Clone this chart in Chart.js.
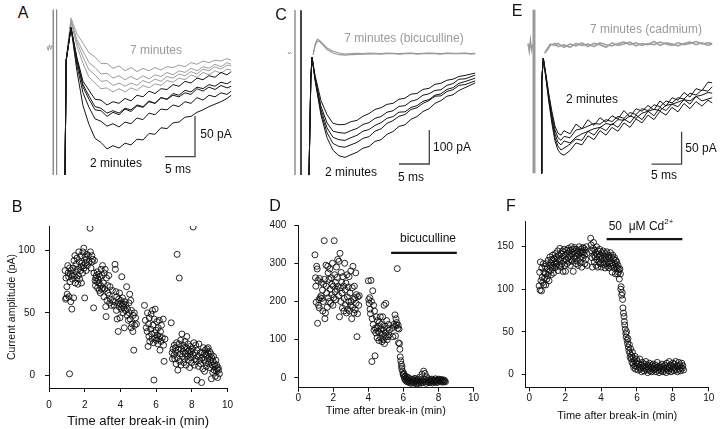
<!DOCTYPE html>
<html><head><meta charset="utf-8">
<script src="https://cdn.jsdelivr.net/npm/chart.js@4.4.1/dist/chart.umd.min.js"></script>
<style>
html,body{margin:0;padding:0;background:#fff;}
#wrap{position:relative;width:720px;height:429px;overflow:hidden;font-family:"Liberation Sans",Arial,Helvetica,sans-serif;}
canvas{position:absolute;}
.lbl{position:absolute;transform:translate(-50%,-50%);white-space:nowrap;font-size:12px;color:#111;line-height:1;}
.g{color:#9a9a9a;}
.let{font-size:16px;}
sup{font-size:8px;vertical-align:6px;line-height:0;}
</style></head><body><div id="wrap">
<canvas id="cA" width="200" height="190" style="left:40px;top:0"></canvas>
<canvas id="cC" width="200" height="190" style="left:280px;top:0"></canvas>
<canvas id="cE" width="200" height="190" style="left:520px;top:0"></canvas>
<canvas id="cB" width="240" height="229" style="left:0;top:200px"></canvas>
<canvas id="cD" width="240" height="229" style="left:240px;top:200px"></canvas>
<canvas id="cF" width="240" height="229" style="left:480px;top:200px"></canvas>

<div class="lbl let" style="left:23px;top:13px">A</div>
<div class="lbl let" style="left:281px;top:15px">C</div>
<div class="lbl let" style="left:517px;top:11px">E</div>
<div class="lbl let" style="left:17px;top:207px">B</div>
<div class="lbl let" style="left:275px;top:206px">D</div>
<div class="lbl let" style="left:511px;top:206px">F</div>

<div class="lbl g" style="left:156px;top:50px">7 minutes</div>
<div class="lbl" style="left:116px;top:163px">2 minutes</div>
<div class="lbl" style="left:216px;top:134px">50 pA</div>
<div class="lbl" style="left:178px;top:169px">5 ms</div>

<div class="lbl g" style="left:404px;top:38px">7 minutes (bicuculline)</div>
<div class="lbl" style="left:351px;top:172px">2 minutes</div>
<div class="lbl" style="left:452px;top:147px">100 pA</div>
<div class="lbl" style="left:411px;top:177px">5 ms</div>

<div class="lbl g" style="left:646px;top:29px">7 minutes (cadmium)</div>
<div class="lbl" style="left:592px;top:99px">2 minutes</div>
<div class="lbl" style="left:701px;top:148px">50 pA</div>
<div class="lbl" style="left:664px;top:175px">5 ms</div>

<div class="lbl" style="left:428px;top:238px">bicuculline</div>
<div class="lbl" style="left:641px;top:226px">50 &nbsp;μM Cd<sup>2+</sup></div>
</div>
<script>
// ---------- Panel A traces (time in ms, current in pA) ----------
const tA = [2,2.2,3,4,5,6,7,8,9,10,11,12,13,14,15,16,17,18,19,20,21,22,23,24,25,26,27,28,29,29.7];
const aBlack1 = [-156,-15,25,-12,-41,-52,-63,-64,-70,-66,-68,-62,-65,-58,-60,-53,-56,-50,-51,-45,-47,-41,-43,-37,-39,-34,-36,-30,-33,-29];
const aBlack2 = [-156,-15,25,-15,-45,-59,-72,-74,-80,-77,-80,-74,-76,-70,-72,-65,-68,-61,-63,-56,-58,-52,-54,-48,-50,-45,-47,-42,-44,-41];
const aBlack3 = [-156,-15,25,-17,-48,-63,-76,-77,-84,-79,-82,-75,-78,-71,-73,-66,-68,-61,-63,-58,-60,-55,-57,-50,-53,-48,-51,-46,-49,-47];
const aBlack4 = [-156,-15,25,-22,-55,-73,-87,-90,-96,-93,-97,-91,-93,-86,-88,-80,-82,-75,-76,-70,-72,-66,-68,-61,-64,-58,-60,-55,-57,-53];
const aBlack5 = [-156,-15,25,-29,-71,-94,-111,-116,-124,-120,-123,-117,-119,-112,-113,-105,-106,-98,-99,-92,-91,-85,-84,-79,-76,-72,-69,-66,-62,-58];
const aGray1 = [-156,-15,37,17,6,-6,-11,-19,-19,-25,-22,-28,-24,-29,-25,-28,-24,-27,-23,-24,-21,-23,-18,-20,-16,-18,-15,-16,-13,-15];
const aGray2 = [-156,-15,34,10,-4,-18,-24,-32,-31,-37,-34,-39,-35,-39,-34,-38,-33,-35,-30,-33,-28,-30,-25,-28,-23,-25,-20,-23,-18,-20];
const aGray3 = [-156,-15,32,7,-11,-27,-33,-41,-40,-46,-43,-47,-43,-46,-40,-43,-38,-41,-35,-37,-32,-34,-29,-32,-26,-28,-23,-26,-21,-22];
const aGray4 = [-156,-15,32,2,-19,-36,-43,-50,-49,-54,-50,-54,-49,-52,-46,-49,-44,-46,-40,-42,-37,-39,-33,-36,-30,-33,-28,-31,-26,-27];
const aPreT = [-1.0,-0.8,-0.6,-0.4,-0.2,0.05];
const aPre = [2,-3,4,-2,3,1];
const aArtifactT = [0.05,0.6];
const aArtifactRange = [47,-156];
const aBarT = [18.67,23.67];
const aBarI = [-133.5,-83.5];

// ---------- Panel C traces ----------
const tC = [2,2.3,2.5,3,4,5,6,7,8,9,10,11,12,13,14,15,16,17,18,19,20,21,22,23,24,25,26,27,28,29.7];
const cBlack1 = [-359,-79,-12,-65,-140,-181,-207,-211,-210,-202,-198,-186,-178,-166,-161,-151,-148,-136,-133,-121,-119,-107,-104,-92,-89,-80,-77,-69,-66,-59];
const cBlack2 = [-359,-79,-12,-71,-157,-205,-230,-234,-236,-228,-222,-210,-205,-192,-187,-174,-170,-157,-155,-142,-137,-124,-120,-110,-108,-95,-90,-77,-76,-65];
const cBlack3 = [-359,-79,-12,-74,-166,-220,-248,-255,-257,-249,-242,-230,-225,-213,-205,-192,-187,-174,-173,-160,-155,-142,-137,-124,-120,-107,-102,-89,-84,-74];
const cBlack4 = [-359,-79,-12,-76,-175,-234,-266,-275,-277,-270,-263,-251,-246,-230,-223,-207,-199,-186,-181,-166,-161,-148,-140,-127,-126,-113,-108,-95,-93,-82];
const cBlack5 = [-359,-79,-12,-79,-183,-249,-286,-302,-307,-299,-292,-280,-275,-260,-255,-239,-231,-216,-211,-195,-187,-172,-164,-148,-140,-127,-123,-110,-102,-88];
const tCg = [2.7,3.0,3.4,3.8,4.5,5,6,7,8,9,10,11,12,13,14,15,16,17,18,19,20,21,22,23,24,25,26,27,28,29,29.7];
const cGray1 = [-5,25,41,36,24,15,5,0,-3,-2,-1,-2,0,-1,-2,0,-1,-2,-1,0,-2,-1,0,-1,-2,0,-1,-1,0,-2,-1];
const cGray2 = [-5,20,35,33,20,10,0,-5,-6,-5,-4,-3,-3,-2,-3,-2,-2,-3,-2,-1,-3,-2,-1,-2,-3,-1,-2,-2,-1,-3,-2];
const cPreT = [-1.5,-1.3,-1.1,-0.9];
const cPre = [3,-3,2,-2];
const cArtifactT = [-0.33,0.67];
const cArtifactRange = [126,-359];
const cBarT = [17,22.05];
const cBarI = [-326.5,-226.5];

// ---------- Panel E traces ----------
const tE = [1.17,1.3,1.55,2,2.5,3,3.5,4,4.5,5,6,7,8,9,10,11,12,13,14,15,16,17,18,19,20,21,22,23,24,25,26,27,28,29,29.7];
const eBlack1 = [-197,-53,-19,-45,-76,-102,-124,-135,-138,-131,-136,-121,-128,-114,-123,-111,-118,-108,-113,-100,-110,-97,-101,-92,-99,-85,-93,-80,-84,-72,-79,-66,-69,-56,-57];
const eBlack2 = [-197,-53,-19,-46,-79,-107,-130,-142,-146,-140,-142,-130,-128,-124,-120,-121,-114,-117,-109,-112,-103,-106,-97,-100,-91,-94,-85,-88,-80,-82,-73,-76,-68,-70,-63];
const eBlack3 = [-197,-53,-19,-48,-82,-111,-136,-149,-153,-147,-150,-141,-136,-132,-128,-126,-120,-122,-114,-115,-108,-112,-104,-101,-98,-100,-92,-90,-87,-83,-85,-78,-76,-72,-73];
const eBlack4 = [-197,-53,-19,-50,-85,-116,-142,-155,-161,-158,-152,-144,-146,-132,-138,-126,-131,-120,-126,-113,-119,-107,-114,-101,-108,-95,-100,-90,-94,-83,-90,-78,-85,-82,-80];
const eBlack5 = [-197,-53,-19,-51,-88,-121,-147,-161,-167,-169,-162,-150,-153,-139,-145,-131,-138,-126,-132,-119,-126,-113,-119,-107,-114,-101,-107,-95,-102,-89,-97,-86,-93,-84,-88];
const tEg = [1.8,2.3,2.7,3.5,4,5,6,7,8,9,10,11,12,13,14,15,16,17,18,19,20,21,22,23,24,25,26,27,28,29,29.7];
const eGray1 = [-11,-3,3,1,4,-2,3,0,5,-1,4,2,-2,5,1,3,6,0,4,2,7,1,5,3,0,4,6,2,5,1,3];
const eGray2 = [-11,-5,1,4,-1,2,-2,4,1,3,-1,5,2,0,4,6,2,5,1,4,2,6,3,1,5,2,4,7,3,5,4];
const ePreT = [-1,-0.8,-0.6,-0.4,-0.2];
const ePre = [4,-8,9,-6,3];
const eArtifactT = [0];
const eArtifactRange = [56,-197];
const eBarT = [19.6,24.6];
const eBarI = [-182.7,-132.7];

// ---------- Panel B: amplitude vs time ----------
const bPoints = [[0.9,84],[0.93,61],[0.95,78],[0.97,62],[1.0,71],[1.02,65],[1.05,88],[1.07,82],[1.1,79],[1.12,63],[1.15,1],[1.15,86],[1.18,75],[1.2,81],[1.22,59],[1.25,84],[1.28,53],[1.3,80],
[1.32,77],[1.35,86],[1.38,62],[1.4,92],[1.42,80],[1.45,96],[1.47,74],[1.5,83],[1.52,89],[1.55,78],[1.57,94],[1.6,85],[1.62,73],[1.65,80],[1.67,99],[1.7,91],[1.72,77],[1.75,84],[1.78,87],[1.8,96],[1.82,74],[1.85,90],[1.88,82],[1.9,99],[1.92,88],[1.95,102],[1.97,86],
[2.0,62],[2.02,95],[2.05,90],[2.08,84],[2.1,93],[2.12,97],[2.15,88],[2.2,96],[2.25,91],[2.3,118],[2.32,99],[2.35,86],[2.4,96],[2.42,91],[2.45,93],[2.5,54],[2.52,82],[2.55,92],[2.58,76],
[2.6,72],[2.62,78],[2.65,80],[2.68,75],[2.7,83],[2.72,70],[2.75,77],[2.78,81],[2.8,74],[2.82,68],[2.85,79],[2.88,66],[2.9,72],[2.92,85],[2.95,69],[2.98,80],[3.0,88],[3.02,70],[3.05,74],[3.08,63],[3.1,82],[3.12,69],[3.15,85],[3.18,55],[3.2,47],[3.22,78],[3.25,60],[3.28,72],[3.3,66],[3.35,80],[3.38,64],[3.4,58],[3.42,71],[3.45,61],[3.5,56],[3.55,68],
[3.6,59],[3.65,56],[3.7,89],[3.72,85],[3.75,67],[3.78,52],[3.8,63],[3.82,45],[3.85,58],[3.88,35],[3.9,61],[3.92,55],[3.95,66],[3.98,46],[4.0,57],[4.02,60],[4.05,53],[4.08,79],[4.1,56],[4.12,62],[4.15,50],[4.18,57],[4.2,54],[4.22,38],[4.25,59],[4.28,52],
[4.3,56],[4.35,71],[4.38,48],[4.4,53],[4.45,44],[4.48,58],[4.5,50],[4.52,65],[4.55,45],[4.58,60],[4.6,38],[4.62,52],[4.65,41],[4.7,35],[4.72,48],[4.75,20],[4.78,50],[4.8,40],[4.85,46],[4.9,41],
[5.35,56],[5.4,44],[5.45,38],[5.5,35],[5.52,50],[5.55,23],[5.58,41],[5.6,31],[5.62,46],[5.65,27],[5.7,37],[5.72,49],[5.75,33],[5.78,29],[5.8,52],[5.82,40],[5.85,26],[5.88,-4],[5.9,45],[5.92,34],[5.95,53],[5.98,30],
[6.0,36],[6.02,28],[6.05,43],[6.08,32],[6.1,25],[6.12,38],[6.15,29],[6.18,44],[6.2,31],[6.22,20],[6.25,35],[6.28,27],[6.3,40],[6.35,30],[6.4,45],[6.42,24],[6.45,11],[6.5,29],
[6.85,42],[6.9,18],[6.92,13],[6.95,21],[7.0,16],[7.02,24],[7.05,13],[7.08,19],[7.1,22],[7.12,9],[7.15,26],[7.18,97],[7.2,14],[7.22,4],[7.25,20],[7.28,25],[7.3,78],[7.32,11],[7.35,17],[7.38,28],[7.4,8],[7.42,21],[7.45,33],[7.48,15],
[7.5,24],[7.52,19],[7.55,10],[7.58,22],[7.6,13],[7.62,27],[7.65,17],[7.68,8],[7.7,22],[7.72,31],[7.75,15],[7.78,19],[7.8,25],[7.82,12],[7.85,20],[7.88,6],[7.9,17],[7.92,23],[7.95,14],[7.98,19],[8.0,10],[8.05,21],[8.08,119],[8.1,16],[8.12,26],[8.15,8],[8.18,18],[8.2,13],[8.22,24],[8.25,11],[8.28,20],[8.3,-4],[8.35,15],[8.38,7],[8.4,25],[8.45,12],[8.48,18],[8.5,9],[8.55,-6],[8.58,14],
[8.6,18],[8.62,5],[8.65,22],[8.68,12],[8.7,17],[8.72,3],[8.75,20],[8.78,10],[8.8,16],[8.82,7],[8.85,21],[8.88,13],[8.9,18],[8.92,22],[8.95,9],[8.98,15],[9.0,19],[9.02,6],[9.05,12],[9.08,17],[9.1,-3],[9.12,14],[9.15,8],[9.18,2],[9.2,11],[9.22,15],[9.25,4],[9.28,9],[9.3,7],[9.32,-1],[9.35,12],[9.38,3],[9.4,8],[9.42,5],[9.45,-2],[9.48,6],[9.5,4],[9.55,1]];
const bXTicks = [0,2,4,6,8,10];
const bYTicks = [0,50,100];

// ---------- Panel D ----------
const dPoints = [[0.95,322],[0.98,262],[1.0,240],[1.02,198],[1.05,292],[1.08,285],[1.1,143],[1.12,255],[1.15,190],[1.18,205],[1.2,183],[1.22,260],[1.25,210],
[1.3,215],[1.32,250],[1.35,208],[1.38,230],[1.4,175],[1.42,200],[1.45,245],[1.48,359],[1.5,258],[1.52,155],[1.55,170],[1.58,295],[1.6,240],[1.62,222],[1.65,185],[1.68,292],[1.7,275],[1.72,210],[1.75,258],[1.78,200],[1.8,285],[1.82,232],[1.85,195],[1.88,262],[1.9,218],[1.92,245],[1.95,300],[1.98,190],
[2.0,240],[2.02,210],[2.05,359],[2.08,270],[2.1,225],[2.12,250],[2.15,205],[2.18,290],[2.2,232],[2.22,263],[2.25,310],[2.28,240],[2.3,215],[2.32,305],[2.35,160],[2.38,326],[2.4,236],[2.42,200],[2.45,276],[2.48,250],[2.5,222],[2.52,183],[2.55,265],[2.58,240],
[2.6,175],[2.62,208],[2.65,300],[2.68,230],[2.7,190],[2.72,248],[2.75,170],[2.78,270],[2.8,212],[2.82,180],[2.85,238],[2.88,200],[2.9,265],[2.92,175],[2.95,222],[2.98,190],[3.0,280],[3.02,200],[3.05,155],[3.08,236],[3.1,185],[3.12,292],[3.15,205],[3.18,170],[3.2,240],[3.22,210],[3.25,178],[3.28,275],[3.3,195],[3.32,218],[3.35,108],[3.38,168],[3.4,212],[3.45,190],[3.48,215],
[4.0,254],[4.02,205],[4.05,195],[4.08,210],[4.1,180],[4.12,168],[4.15,255],[4.18,200],[4.2,43],[4.22,155],[4.25,228],[4.28,140],[4.3,190],[4.32,125],[4.35,175],[4.38,58],[4.4,130],[4.42,118],[4.45,160],[4.48,132],[4.5,105],
[4.52,150],[4.55,122],[4.58,135],[4.6,98],[4.62,145],[4.65,118],[4.68,160],[4.7,105],[4.72,128],[4.75,140],[4.78,95],[4.8,115],[4.82,160],[4.85,100],[4.88,125],[4.9,190],[4.92,90],[4.95,135],[4.98,108],[5.0,195],[5.02,118],[5.05,150],[5.08,100],[5.1,130],[5.12,108],[5.15,140],[5.18,112],[5.2,125],
[5.35,130],[5.4,108],[5.45,140],[5.5,135],[5.52,165],[5.55,110],[5.58,155],[5.6,138],[5.62,145],[5.65,286],[5.68,130],[5.7,138],[5.72,92],[5.75,128],[5.78,90],
[5.8,75],[5.82,55],[5.85,45],[5.88,36],[5.9,25],[5.92,30],[5.95,18],[5.98,10],[6.0,8],
[6.02,12],[6.05,2],[6.08,-3],[6.1,5],[6.12,-6],[6.15,0],[6.18,-9],[6.2,3],[6.22,-4],[6.25,-10],[6.28,1],[6.3,-7],[6.33,-12],[6.36,-2],[6.4,-8],[6.43,-14],[6.46,-5],[6.5,-11],[6.53,-3],[6.56,-9],[6.6,-13],[6.63,-6],[6.66,-1],[6.7,-10],[6.73,-15],[6.76,-7],[6.8,-3],[6.83,-12],[6.86,-8],[6.9,-14],[6.93,2],[6.96,-9],[7.0,-5],[7.03,-13],[7.06,10],[7.1,-7],[7.13,-11],[7.16,18],[7.2,-4],[7.23,12],[7.26,-9],[7.3,-14],[7.33,3],[7.36,-6],[7.4,-10],[7.43,-2],[7.46,-12],[7.5,-7],[7.53,-4],[7.56,-11],[7.6,-8],[7.63,-3],[7.66,-13],[7.7,-6],[7.73,-9],[7.76,-5],[7.8,-11],[7.83,-2],[7.86,-8],[7.9,-6],[7.93,-12],[7.96,-4],[8.0,-9],[8.03,-3],[8.06,-7],[8.1,-5],[8.13,-10],[8.16,-4],[8.2,-8],[8.23,-6],[8.26,-11],[8.3,-5],[8.33,-9],[8.36,-7],[8.4,-10]];
const dXTicks = [0,2,4,6,8,10];
const dYTicks = [0,100,200,300,400];
const dBicucullineBar = [[5.3,327],[9.05,327]];

// ---------- Panel F ----------
const fPoints = [[0.55,104],[0.58,120],[0.6,99],[0.62,132],[0.65,110],[0.68,98],[0.7,125],[0.72,114],[0.75,108],[0.78,130],[0.8,105],[0.82,120],[0.85,113],[0.88,127],
[0.9,118],[0.92,105],[0.95,130],[0.98,112],[1.0,124],[1.02,116],[1.05,134],[1.08,120],[1.1,110],[1.12,128],[1.15,138],[1.18,122],[1.2,131],[1.22,117],[1.25,135],[1.28,126],[1.3,140],[1.32,128],[1.35,119],[1.38,136],[1.4,130],[1.42,125],[1.45,142],[1.48,132],
[1.5,127],[1.52,138],[1.55,130],[1.58,145],[1.6,122],[1.62,135],[1.65,140],[1.68,128],[1.7,148],[1.72,134],[1.75,126],[1.78,142],[1.8,137],[1.82,130],[1.85,145],[1.88,121],[1.9,139],[1.92,133],[1.95,147],[1.98,128],
[2.0,140],[2.02,121],[2.05,135],[2.08,146],[2.1,130],[2.12,142],[2.15,137],[2.18,148],[2.2,132],[2.22,144],[2.25,139],[2.28,128],[2.3,146],[2.32,135],[2.35,150],[2.38,141],[2.4,133],[2.42,147],[2.45,121],[2.48,138],[2.5,144],[2.52,149],[2.55,136],[2.58,142],[2.6,130],[2.62,147],[2.65,139],[2.68,133],[2.7,145],[2.72,128],[2.75,141],[2.78,150],[2.8,136],[2.82,143],[2.85,131],[2.88,147],[2.9,138],[2.92,126],[2.95,144],[2.98,149],
[3.0,137],[3.02,143],[3.05,148],[3.08,140],[3.1,130],[3.12,146],[3.15,135],[3.18,150],[3.2,142],[3.22,128],
[3.42,160],[3.45,152],[3.48,145],[3.5,137],[3.52,126],[3.55,148],[3.58,155],[3.6,140],
[3.62,132],[3.65,146],[3.68,138],[3.7,143],[3.72,128],[3.75,150],[3.78,135],[3.8,141],[3.82,126],[3.85,145],[3.88,132],[3.9,138],[3.92,147],[3.95,130],[3.98,140],[4.0,135],[4.02,126],[4.05,143],[4.08,137],[4.1,131],[4.12,145],[4.15,129],[4.18,139],[4.2,134],[4.22,125],[4.25,142],[4.28,136],[4.3,130],[4.32,144],[4.35,127],[4.38,138],
[4.4,132],[4.42,140],[4.45,125],[4.48,136],[4.5,130],[4.52,143],[4.55,127],[4.58,138],[4.6,131],[4.62,120],[4.65,140],[4.68,128],[4.7,135],[4.72,125],[4.75,137],[4.78,130],[4.8,118],[4.82,134],[4.85,127],[4.88,132],
[4.9,125],[4.92,118],[4.95,128],[4.98,120],[5.0,123],[5.02,112],[5.05,124],[5.08,118],[5.1,100],[5.12,103],[5.15,93],[5.18,96],[5.2,88],
[5.22,78],[5.25,72],[5.28,68],[5.3,62],[5.32,58],[5.35,53],[5.38,48],[5.4,44],[5.42,50],[5.45,40],[5.48,36],[5.5,42],[5.52,32],[5.55,28],[5.58,35],
[5.6,25],[5.62,20],[5.65,30],[5.68,18],[5.7,22],[5.72,14],[5.75,26],[5.78,12],[5.8,19],[5.82,8],[5.85,16],[5.88,10],[5.9,21],[5.92,6],[5.95,13],[5.98,18],
[6.0,9],[6.03,15],[6.06,5],[6.1,12],[6.13,8],[6.16,18],[6.2,6],[6.23,11],[6.26,3],[6.3,14],[6.33,8],[6.36,10],[6.4,4],[6.43,12],[6.46,7],[6.5,15],[6.53,5],[6.56,9],[6.6,2],[6.63,11],[6.66,6],[6.7,13],[6.73,4],[6.76,8],[6.8,10],[6.83,3],[6.86,7],[6.9,12],[6.93,5],[6.96,9],[7.0,6],[7.03,11],[7.06,3],[7.1,8],[7.13,14],[7.16,5],[7.2,9],[7.23,2],[7.26,7],[7.3,10],[7.33,4],[7.36,8],[7.4,12],[7.43,6],[7.46,3],[7.5,9],[7.53,5],[7.56,11],[7.6,7],[7.63,2],[7.66,13],[7.7,6],[7.73,9],[7.76,4],[7.8,15],[7.83,7],[7.86,11],[7.9,3],[7.93,10],[7.96,6],[8.0,13],[8.03,8],[8.06,4],[8.1,12],[8.13,7],[8.16,15],[8.2,5],[8.23,10],[8.26,3],[8.3,9],[8.33,14],[8.36,6],[8.4,11],[8.43,4],[8.46,8],[8.5,13],[8.53,7],[8.56,10],[8.6,5]];
const fXTicks = [0,2,4,6,8,10];
const fYTicks = [0,50,100,150];
const fCadmiumBar = [[4.31,159],[8.53,159]];

// ---------- helpers ----------
Chart.defaults.font.family = '"Liberation Sans", Arial, Helvetica, sans-serif';
Chart.defaults.color = '#111';
const BLACK = '#151515', GRAY = '#9c9c9c';
function series(ts, ys){ return ts.map((t,i)=>({x:t,y:ys[i]})); }
function line(data,color,width){ return {data, showLine:true, borderColor:color, borderWidth:width||1, pointRadius:0, fill:false, tension:0}; }
function artifacts(ts, range, color, width){ return ts.map(t=>line([{x:t,y:range[0]},{x:t,y:range[1]}],color,width)); }
function scaleBar(bt, bi){ return line([{x:bt[0],y:bi[0]},{x:bt[1],y:bi[0]},{x:bt[1],y:bi[1]}],'#444',1.3); }
function traceChart(id, xr, yr, datasets){
  new Chart(document.getElementById(id), {type:'scatter', data:{datasets},
    options:{responsive:false, animation:false, devicePixelRatio:1, layout:{padding:0},
      plugins:{legend:{display:false}, tooltip:{enabled:false}},
      scales:{x:{type:'linear', display:false, min:xr[0], max:xr[1]}, y:{display:false, min:yr[0], max:yr[1]}}}});
}
function pts(p){ return p.map(q=>({x:q[0],y:q[1]})); }
function scatterChart(id, c){
  const ds = [{data:pts(c.points), pointRadius:3, pointBorderWidth:0.9, borderColor:'#111', pointBackgroundColor:'rgba(0,0,0,0)', backgroundColor:'rgba(0,0,0,0)', showLine:false}];
  if (c.bar) ds.unshift({data:pts(c.bar), showLine:true, borderColor:'#111', borderWidth:2.2, pointRadius:0});
  new Chart(document.getElementById(id), {type:'scatter', data:{datasets:ds},
    options:{responsive:false, animation:false, devicePixelRatio:1,
      layout:{padding:c.pad},
      plugins:{legend:{display:false}, tooltip:{enabled:false}},
      scales:{
        x:{type:'linear', min:c.xr[0], max:c.xr[1],
           afterBuildTicks:s=>{s.ticks=c.xt.map(v=>({value:v}));},
           afterFit:s=>{s.height=c.xh;},
           grid:{display:true, drawOnChartArea:false, drawTicks:true, tickLength:4, color:'#111', lineWidth:1},
           border:{display:true, color:'#111', width:1},
           ticks:{font:{size:10}, padding:c.xtp, maxRotation:0, color:'#111'},
           title:{display:true, text:'Time after break-in (min)', font:{size:c.xtf}, padding:{top:0,bottom:c.xtpb}, color:'#111'}},
        y:{type:'linear', min:c.yr[0], max:c.yr[1],
           afterBuildTicks:s=>{s.ticks=c.yt.map(v=>({value:v}));},
           afterFit:s=>{s.width=c.yw;},
           grid:{display:true, drawOnChartArea:false, drawTicks:true, tickLength:4, color:'#111', lineWidth:1},
           border:{display:true, color:'#111', width:1},
           ticks:{font:{size:10}, padding:c.ytp, color:'#111'},
           title:{display:!!c.ytitle, text:c.ytitle||'', font:{size:10.5}, padding:{top:6,bottom:0}, color:'#111'}}
      }}});
}

// ---------- top row ----------
traceChart('cA', [-2.1667,31.1667], [-174.45,58.97], [
  line(series(tA,aBlack1),BLACK), line(series(tA,aBlack2),BLACK), line(series(tA,aBlack3),BLACK),
  line(series(tA,aBlack4),BLACK), line(series(tA,aBlack5),BLACK),
  line(series(tA,aGray1),GRAY), line(series(tA,aGray2),GRAY), line(series(tA,aGray3),GRAY), line(series(tA,aGray4),GRAY),
  line(series(aPreT,aPre),GRAY),
  ...artifacts(aArtifactT, aArtifactRange, '#8a8a8a', 1),
  scaleBar(aBarT, aBarI)
]);
traceChart('cC', [-2.8333,30.5], [-402.9,155.9], [
  line(series(tC,cBlack1),BLACK), line(series(tC,cBlack2),BLACK), line(series(tC,cBlack3),BLACK),
  line(series(tC,cBlack4),BLACK), line(series(tC,cBlack5),BLACK),
  line(series(tCg,cGray1),GRAY,1.2), line(series(tCg,cGray2),GRAY,1.2),
  line(series(cPreT,cPre),GRAY),
  line([{x:cArtifactT[0],y:cArtifactRange[0]},{x:cArtifactT[0],y:cArtifactRange[1]}],'#a0a0a0',1),
  line([{x:cArtifactT[1],y:cArtifactRange[0]},{x:cArtifactT[1],y:cArtifactRange[1]}],'#444',2),
  scaleBar(cBarT, cBarI)
]);
traceChart('cE', [-2.3333,31], [-222.9,71.2], [
  line(series(tE,eBlack1),BLACK), line(series(tE,eBlack2),BLACK), line(series(tE,eBlack3),BLACK),
  line(series(tE,eBlack4),BLACK), line(series(tE,eBlack5),BLACK),
  line(series(tEg,eGray1),GRAY,1.5), line(series(tEg,eGray2),GRAY,1.5),
  line(series(ePreT,ePre),GRAY,1.5),
  ...artifacts(eArtifactT, eArtifactRange, '#9a9a9a', 3),
  scaleBar(eBarT, eBarI)
]);

// ---------- bottom row ----------
scatterChart('cB', {points:bPoints, xr:[0,10], yr:[-10.4,119.8], xt:bXTicks, yt:bYTicks,
  pad:{left:0, top:26, right:11, bottom:0}, xh:41, yw:49, xtp:7, ytp:10, xtf:13, xtpb:0,
  ytitle:'Current amplitude (pA)'});
scatterChart('cD', {points:dPoints, bar:dBicucullineBar, xr:[0,10], yr:[-25.4,400], xt:dXTicks, yt:dYTicks,
  pad:{left:0, top:25, right:2.3, bottom:0}, xh:41.3, yw:58.3, xtp:1, ytp:8, xtf:11, xtpb:11});
scatterChart('cF', {points:fPoints, bar:fCadmiumBar, xr:[-0.2,10], yr:[-15.3,179.4], xt:fXTicks, yt:fYTicks,
  pad:{left:0, top:21.7, right:11.3, bottom:0}, xh:41.7, yw:45.7, xtp:1, ytp:8, xtf:11, xtpb:6});
</script>
</body></html>
